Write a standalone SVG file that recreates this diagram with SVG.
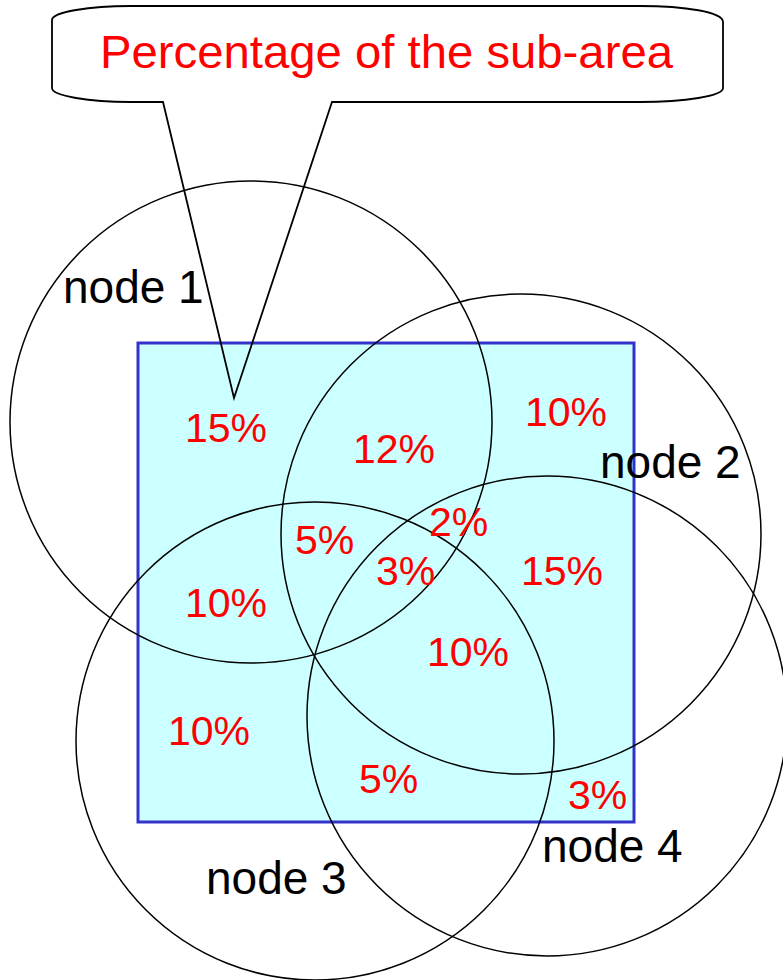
<svg xmlns="http://www.w3.org/2000/svg" width="783" height="980" viewBox="0 0 783 980">
<style>
.circ{fill:none;stroke:#000;stroke-width:1.5}
.pct{font-family:"Liberation Sans",Arial,sans-serif;font-size:41px;fill:#FF0000}
.lbl{font-family:"Liberation Sans",Arial,sans-serif;font-size:46px;fill:#000}
</style>
<rect width="783" height="980" fill="#fff"/>
<g id="area">
<rect x="138" y="343" width="496" height="479" fill="#CCFFFF" stroke="#3333CC" stroke-width="3"/>
</g>
<g id="node1">
<circle class="circ" cx="251" cy="422" r="241"/>
<text class="lbl" x="63" y="303">node 1</text>
</g>
<g id="node2">
<circle class="circ" cx="521" cy="534" r="240"/>
<text class="lbl" x="600" y="478">node 2</text>
</g>
<g id="node3">
<circle class="circ" cx="315" cy="741" r="239"/>
<text class="lbl" x="206" y="894">node 3</text>
</g>
<g id="node4">
<circle class="circ" cx="547" cy="716" r="240"/>
<text class="lbl" x="542" y="862">node 4</text>
</g>
<g id="percentages">
<text class="pct" x="185" y="442">15%</text>
<text class="pct" x="353" y="463">12%</text>
<text class="pct" x="525" y="426">10%</text>
<text class="pct" x="429" y="536">2%</text>
<text class="pct" x="295" y="554">5%</text>
<text class="pct" x="376" y="585">3%</text>
<text class="pct" x="521" y="585">15%</text>
<text class="pct" x="185" y="617">10%</text>
<text class="pct" x="427" y="666">10%</text>
<text class="pct" x="168" y="745">10%</text>
<text class="pct" x="359" y="793">5%</text>
<text class="pct" x="568" y="809">3%</text>
</g>
<g id="callout">
<path d="M163,102 L130,102 C90,102 52,96 52,88 L52,20 C52,12 90,6 130,6 L640,6 C685,6 723,12 723,22 L723,88 C723,96 685,102 640,102 L332,102 L234,398 Z" fill="none" stroke="#000" stroke-width="1.8" stroke-linejoin="miter"/>
<text x="100" y="68" font-family="'Liberation Sans',Arial,sans-serif" font-size="46" fill="#FF0000" textLength="573" lengthAdjust="spacingAndGlyphs">Percentage of the sub-area</text>
</g>
</svg>
